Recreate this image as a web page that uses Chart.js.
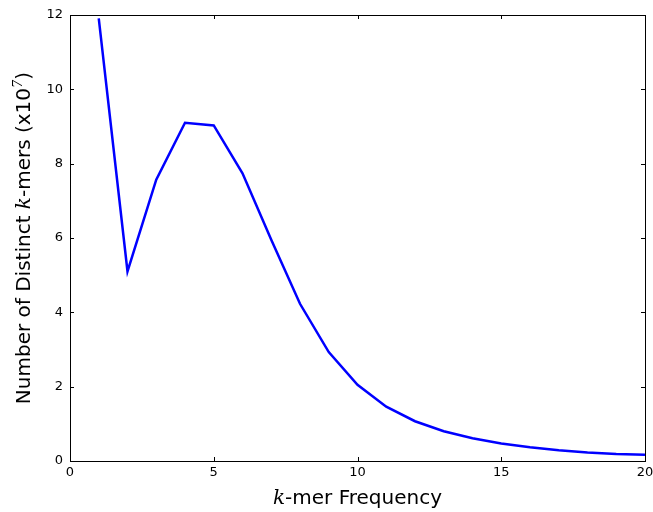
<!DOCTYPE html>
<html>
<head>
<meta charset="utf-8">
<script src="https://cdn.jsdelivr.net/npm/chart.js@4/dist/chart.umd.min.js"></script>
<style>
  html, body { margin: 0; padding: 0; background: #fff; }
  #wrap { width: 653px; height: 512px; }
</style>
</head>
<body>
<div id="wrap"><canvas id="c" width="653" height="512"></canvas></div>
<script>
// k-mer frequency spectrum
const frequency = [1, 2, 3, 4, 5, 6, 7, 8, 9, 10, 11, 12, 13, 14, 15, 16, 17, 18, 19, 20];
const distinctKmers = [11.91, 5.10, 7.57, 9.10, 9.03, 7.74, 5.95, 4.23, 2.93, 2.05, 1.46, 1.07, 0.80, 0.61, 0.47, 0.37, 0.29, 0.23, 0.19, 0.17];
const xTicks = [0, 5, 10, 15, 20];
const yTicks = [0, 2, 4, 6, 8, 10, 12];

const SANS = '"DejaVu Sans", sans-serif';
const SERIF_IT = 'italic 20px "DejaVu Serif", serif';

// Draws a run of differently styled text pieces centred on the current origin.
function drawRuns(ctx, runs) {
  let total = 0;
  runs.forEach(r => { ctx.font = r.font; r.w = ctx.measureText(r.text).width; total += r.w; });
  let x = -total / 2;
  runs.forEach(r => {
    ctx.font = r.font;
    ctx.fillText(r.text, x, r.dy || 0);
    x += r.w;
  });
}

const framePlugin = {
  id: 'frame',
  afterDraw(chart) {
    const ctx = chart.ctx;
    const a = chart.chartArea;
    const xs = chart.scales.x, ys = chart.scales.y;
    ctx.save();
    ctx.strokeStyle = '#000';
    ctx.lineWidth = 1;
    ctx.strokeRect(Math.round(a.left) + 0.5, Math.round(a.top) + 0.5,
                   Math.round(a.right - a.left), Math.round(a.bottom - a.top));
    const len = 4;
    ctx.beginPath();
    xTicks.forEach(v => {
      const px = Math.round(xs.getPixelForValue(v)) + 0.5;
      ctx.moveTo(px, a.bottom); ctx.lineTo(px, a.bottom - len);
      ctx.moveTo(px, a.top); ctx.lineTo(px, a.top + len);
    });
    yTicks.forEach(v => {
      const py = Math.round(ys.getPixelForValue(v)) + 0.5;
      ctx.moveTo(a.left, py); ctx.lineTo(a.left + len, py);
      ctx.moveTo(a.right, py); ctx.lineTo(a.right - len, py);
    });
    ctx.stroke();

    // axis titles
    ctx.fillStyle = '#000';
    ctx.textBaseline = 'alphabetic';
    ctx.textAlign = 'left';
    ctx.save();
    ctx.translate((a.left + a.right) / 2, 504);
    drawRuns(ctx, [
      { text: 'k', font: SERIF_IT },
      { text: '-mer Frequency', font: '20px ' + SANS }
    ]);
    ctx.restore();

    ctx.save();
    ctx.translate(30, (a.top + a.bottom) / 2);
    ctx.rotate(-Math.PI / 2);
    drawRuns(ctx, [
      { text: 'Number of Distinct ', font: '20px ' + SANS },
      { text: 'k', font: SERIF_IT },
      { text: '-mers (x10', font: '20px ' + SANS },
      { text: '7', font: 'italic 13px "DejaVu Serif", serif', dy: -8 },
      { text: ')', font: '20px ' + SANS }
    ]);
    ctx.restore();
    ctx.restore();
  }
};

new Chart(document.getElementById('c'), {
  type: 'line',
  data: {
    datasets: [{
      data: frequency.map((f, i) => ({ x: f, y: distinctKmers[i] })),
      borderColor: '#0000ff',
      borderWidth: 2.5,
      pointRadius: 0,
      tension: 0,
      fill: false
    }]
  },
  options: {
    responsive: false,
    animation: false,
    devicePixelRatio: 1,
    layout: { padding: { left: 0, top: 15, right: 0, bottom: 0 } },
    plugins: { legend: { display: false }, tooltip: { enabled: false } },
    scales: {
      x: {
        type: 'linear', min: 0, max: 20,
        afterBuildTicks: s => { s.ticks = xTicks.map(v => ({ value: v })); },
        afterFit: s => { s.height = 51; s.paddingRight = 8; s.paddingLeft = 0; },
        grid: { display: false, drawTicks: false },
        border: { display: false },
        ticks: { color: '#000', font: { family: SANS, size: 13 }, padding: 4, maxRotation: 0 }
      },
      y: {
        type: 'linear', min: 0, max: 12,
        afterBuildTicks: s => { s.ticks = yTicks.map(v => ({ value: v })); },
        afterFit: s => { s.width = 70; s.paddingTop = 0; s.paddingBottom = 0; },
        grid: { display: false, drawTicks: false },
        border: { display: false },
        ticks: { color: '#000', font: { family: SANS, size: 13 }, padding: 7 }
      }
    }
  },
  plugins: [framePlugin]
});
</script>
</body>
</html>
